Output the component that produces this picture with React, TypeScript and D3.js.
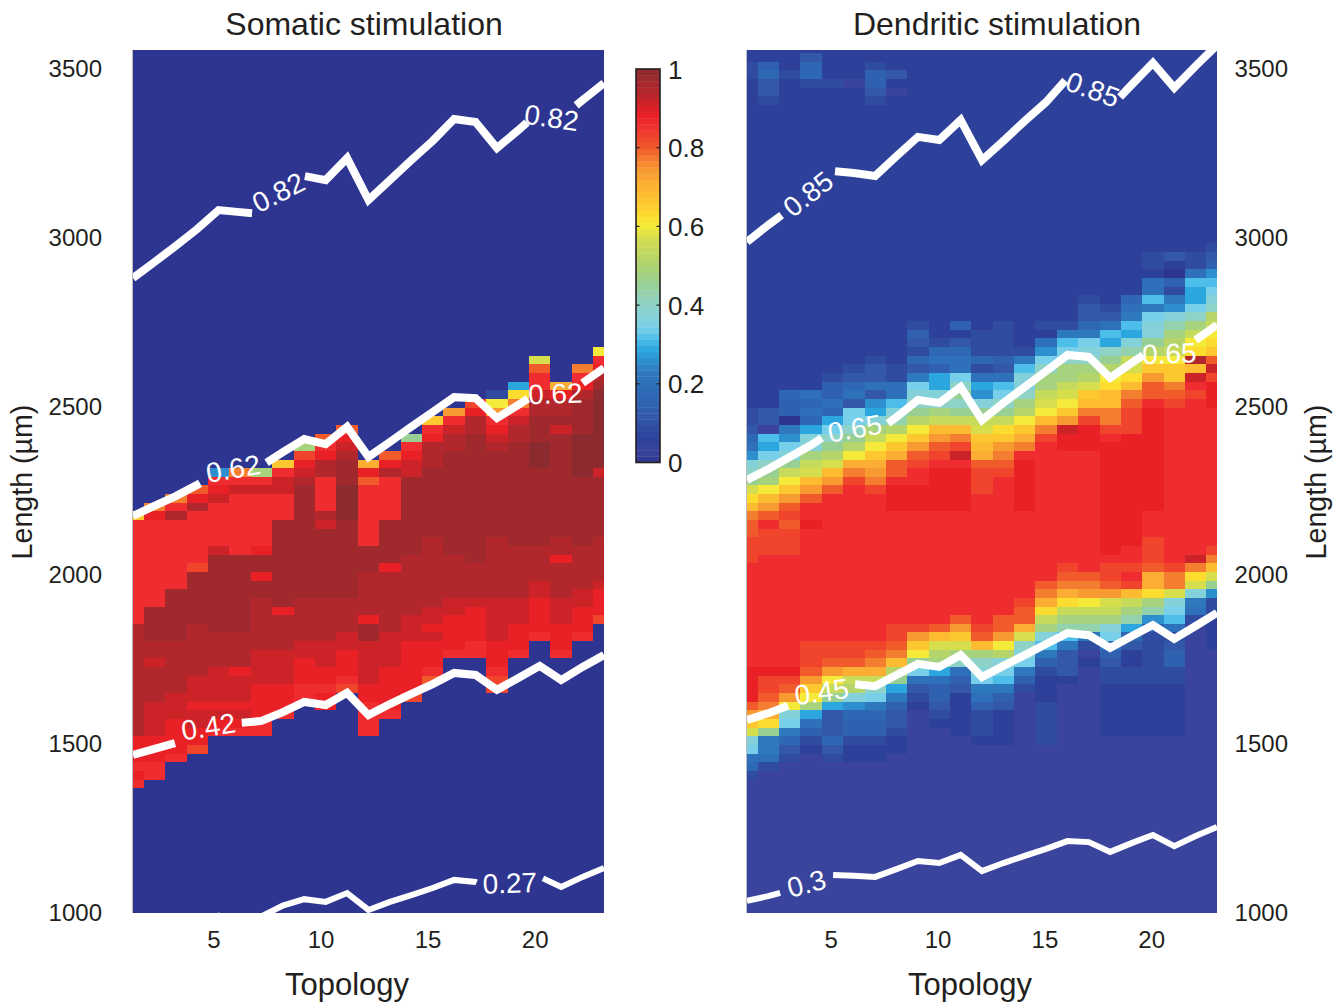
import React from "react";
import * as d3 from "d3";

// Topology axis and length axis
const topologies = d3.range(1, 24);
const lengthTicks = [1000, 1500, 2000, 2500, 3000, 3500];
const topologyTicks = [5, 10, 15, 20];
const colorTicks = [0, 0.2, 0.4, 0.6, 0.8, 1];
const ROW_COUNT = 101;
const ROW_STEP = 25.62; // µm per heat-map row
const LEVEL_CHARS = "0123456789abcdefghijklmnopqrstuvwxyz";

// Colormap (level index out of 35)
const colorLevels = [0, 1, 2, 3, 4, 5, 6, 8, 10, 11, 12, 14, 16, 18, 20, 21, 22, 23, 25, 26, 27, 28, 30, 31, 32, 33, 34, 35];
const colorHex = ["#2e3591", "#3a449c", "#2d409a", "#2f4ca1", "#3358a8", "#3060b0", "#2e68b4", "#2e78bd", "#2ca6de", "#4dbde9", "#78cfe9", "#8fd3c8", "#98cf92", "#b5d56a", "#d6de4d", "#f5ea3a", "#fddc30", "#fdc82f", "#fbae33", "#f89a32", "#f47e30", "#f15a2a", "#ef2d30", "#e92127", "#cc2329", "#b2272c", "#a0292e", "#8b2a2f"];

// Heat-map columns: each token = level char + row index it starts at (reading downward)
const somaticColumns = [
  "n46 u45 x33 v20 u17 v16 u15 014",
  "r47 v46 u45 y35 x31 w29 x28 w24 v20 u17 015",
  "r48 u47 x46 u45 y37 x31 w25 v22 u18 017",
  "s49 v48 x47 u46 t40 y39 x33 w27 v24 w23 v21 t19 018",
  "951 u50 v49 w48 u47 w42 y41 x32 w28 v24 w23 v22 u21 020",
  "r51 u50 w49 u48 y41 x32 v28 w27 v24 w23 v22 u21 020",
  "h51 u50 w49 u48 v42 y41 v39 y38 x36 w30 v26 u22 020",
  "n52 u51 w50 u48 y45 v35 x34 w30 v26 u23 022",
  "h54 t53 v52 w51 x50 y49 x36 w31 v29 u26 024",
  "s55 u54 v53 x52 u50 x46 w45 y44 x36 w31 v28 u26 v25 023",
  "s56 v55 w54 x53 y52 z49 y45 x36 w32 v30 u27 t26 025",
  "p52 v51 s50 u49 y42 x39 v34 y33 w31 v26 u24 020",
  "s53 v52 x51 u50 y45 v40 x39 w32 v28 u23 022",
  "g55 u54 v53 w52 y50 x41 w34 v31 t25 024",
  "n57 u56 v55 x54 y51 x43 w35 v33 w32 v31 u28 s27 026",
  "q58 u57 w56 x55 y53 x41 w36 v34 u30 029",
  "t59 v58 x57 y55 x40 w36 v35 u31 029",
  "360 l59 q58 u57 v56 w55 x54 y53 x43 w36 v31 u28 t27 025",
  "a61 m60 r59 u58 w57 x56 y54 x42 w36 v33 u30 029",
  "k64 s63 u62 w60 x59 y57 z54 y51 x42 w38 v36 u32 031",
  "p61 v60 x59 y57 w56 y55 x43 v41 x40 w36 v33 u30 029",
  "r63 u62 v61 x60 y59 z55 y50 x42 w37 v35 u32 031",
  "l65 u64 v63 x62 y61 z60 w51 y50 x43 w38 v37 t34 033",
];

const dendriticColumns = [
  "398 296 358 456 655 754 953 d52 e51 g50 k49 m48 o47 r46 s45 t43 u40 v28 s24 q23 n22 k21 d20 c19 718 617 316 115",
  "598 697 496 394 293 458 156 b55 a54 c53 e52 g51 h50 l49 o48 q47 s46 u45 t44 u41 v28 t27 s25 r24 p23 m22 g21 820 718 317 116",
  "397 296 660 559 057 856 955 c54 d53 g52 j51 l50 n49 q48 s47 t46 s45 t44 u41 v28 t27 s26 q25 l24 d23 c22 821 620 419 318 117",
  "499 698 396 295 760 659 758 657 a56 d55 h53 j52 k51 o50 q49 s48 u47 v45 u44 t31 s28 q27 n26 l25 h24 a23 722 521 320 219 118",
  "396 295 362 561 759 658 a57 c56 e55 g54 i53 k52 o51 q50 s49 u48 t31 s29 q28 l27 j26 g25 a24 423 620 419 318 117",
  "196 295 363 462 661 760 459 c58 e56 g55 i54 l53 p52 r51 t50 u49 t31 s29 p28 j27 i26 d25 924 623 522 320 219 117",
  "398 597 495 394 293 364 463 761 460 959 a58 d57 h56 j55 l54 n53 p52 q51 r50 t49 u48 t31 s30 r29 p28 j27 e26 c25 824 623 522 320 219 117",
  "497 296 195 294 363 761 b59 d58 f57 i56 l55 n54 p53 s52 u50 v49 u46 t33 s31 r30 o29 i28 g27 a26 825 524 423 321 220 118",
  "368 567 466 365 664 463 862 c61 d60 e59 g58 i57 l56 n55 q54 s53 t52 u51 v49 u46 t33 q32 n31 l30 g29 c28 727 426 325 224 123",
  "366 665 764 563 a62 d60 e59 h58 j57 o56 q55 s54 t53 u52 v51 u46 s33 o32 k31 i30 h29 a28 727 526 424 323 222 121",
  "568 267 466 665 764 c62 e61 g60 e59 g58 j57 o56 r55 t54 w53 u52 v51 u46 s34 q33 n32 k31 h30 e29 728 527 426 225 120",
  "367 664 363 762 a61 960 d59 g58 j57 k56 n55 o54 p53 s52 t51 u48 t33 s32 o31 h30 e29 d28 c27 826 725 524 323 220 119",
  "368 564 463 762 b61 c60 e59 g58 j57 m56 n55 q54 r53 s52 t51 u50 s34 q32 l31 i30 d29 c28 b27 826 525 424 223 119",
  "266 365 864 b63 d62 e60 h59 i58 l57 n56 p55 r54 u53 v52 u46 t36 s35 p33 k32 e31 d30 c29 828 527 326 125 119",
  "368 267 766 965 c64 e63 h62 j60 k59 l58 o57 r56 t55 u54 s38 r37 p36 m35 j34 h33 d32 b31 830 529 328 227 324 119",
  "368 867 b66 c65 e64 h63 j61 k60 l59 n58 q57 w56 v55 u53 t40 s39 r38 p37 m36 j35 h34 f33 b32 831 430 227 126",
  "371 470 668 867 c66 d65 e64 h63 i62 k61 n60 o59 r58 t57 v56 u53 s39 r38 q37 l36 j35 h34 f33 832 331 130 229 128",
  "370 469 768 b67 a66 e65 g64 i63 l62 m61 o60 r58 t56 u55 v54 u41 t40 s38 q37 k36 j35 h34 d33 c32 731 530 429 328 226 120",
  "272 671 770 869 b68 a67 d66 f65 j64 k63 m62 o61 r60 s59 t58 v55 u42 t40 u39 t38 o37 j36 h35 f34 a33 632 431 230 328 226 120",
  "376 274 773 b71 870 c69 d68 g66 i65 l64 n63 q62 s61 u59 v58 u46 t43 s40 p39 m37 h36 f35 934 533 332 226 120",
  "476 275 074 573 372 871 970 d69 f68 h67 i66 j65 l64 n63 r61 s60 t59 u58 t40 r39 k37 d36 c35 b34 733 332 431 530 328 226 120",
  "376 774 b73 a72 c70 e69 h68 j67 l66 m65 x64 o63 w62 u61 t60 u59 w41 r40 m39 k38 d37 836 735 334 133",
  "377 476 575 974 b73 c72 d71 e70 i69 j68 l67 m66 n65 s64 w63 t62 v61 u58 t42 r41 o40 k39 g38 937 336 234 130",
];

// Contour lines: length (µm) per topology
const somaticContour82 = [2881, 2928, 2976, 3026, 3082, 3076, 3070, 3127, 3183, 3171, 3236, 3112, 3171, 3230, 3287, 3352, 3343, 3266, 3319, 3376, 3355, 3408, 3458];
const somaticContour62 = [2176, 2206, 2235, 2268, 2306, 2315, 2324, 2365, 2404, 2389, 2440, 2351, 2395, 2440, 2484, 2528, 2525, 2466, 2505, 2546, 2525, 2570, 2614];
const somaticContour42 = [1468, 1486, 1504, 1524, 1557, 1563, 1569, 1595, 1625, 1616, 1652, 1586, 1619, 1649, 1678, 1711, 1705, 1661, 1696, 1732, 1690, 1729, 1764];
const somaticContour27 = [911, 935, 950, 965, 992, 975, 990, 1022, 1041, 1033, 1059, 1009, 1033, 1053, 1074, 1098, 1092, 1065, 1086, 1107, 1077, 1107, 1133];
const dendriticContour85 = [2988, 3038, 3085, 3136, 3198, 3192, 3183, 3242, 3299, 3290, 3349, 3230, 3287, 3346, 3402, 3473, 3461, 3387, 3453, 3518, 3444, 3509, 3571];
const dendriticContour65 = [2283, 2315, 2351, 2386, 2428, 2425, 2422, 2469, 2520, 2511, 2558, 2460, 2511, 2558, 2605, 2653, 2647, 2585, 2629, 2671, 2650, 2697, 2742];
const dendriticContour45 = [1572, 1592, 1616, 1640, 1678, 1678, 1672, 1705, 1738, 1729, 1764, 1699, 1732, 1764, 1797, 1829, 1823, 1785, 1820, 1853, 1812, 1850, 1889];
const dendriticContour30 = [1036, 1050, 1068, 1089, 1113, 1110, 1107, 1130, 1154, 1148, 1172, 1124, 1148, 1169, 1190, 1213, 1210, 1181, 1207, 1231, 1198, 1228, 1255];

type LabelSpec = { text: string; from: number; to: number; angle: number; dy: number };
type ContourSpec = { values: number[]; width: number; labels: LabelSpec[] };

const somaticContours: ContourSpec[] = [
  { values: somaticContour82, width: 8, labels: [{ text: "0.82", from: 6.56, to: 9.03, angle: -27, dy: -2 }, { text: "0.82", from: 19.4, to: 21.7, angle: 8, dy: 4 }] },
  { values: somaticContour62, width: 8, labels: [{ text: "0.62", from: 4.13, to: 7.24, angle: -10, dy: -4 }, { text: "0.62", from: 19.45, to: 22, angle: -2, dy: 3 }] },
  { values: somaticContour42, width: 8, labels: [{ text: "0.42", from: 2.96, to: 6.08, angle: -9, dy: -6 }] },
  { values: somaticContour27, width: 6, labels: [{ text: "0.27", from: 17.05, to: 20.15, angle: -2, dy: 3 }] },
];
const dendriticContours: ContourSpec[] = [
  { values: dendriticContour85, width: 8, labels: [{ text: "0.85", from: 2.62, to: 5.12, angle: -38, dy: 1 }, { text: "0.85", from: 15.9, to: 18.46, angle: 20, dy: 1 }] },
  { values: dendriticContour65, width: 8, labels: [{ text: "0.65", from: 4.5, to: 7.6, angle: -10, dy: -2 }, { text: "0.65", from: 19.54, to: 22, angle: -2, dy: 6 }] },
  { values: dendriticContour45, width: 8, labels: [{ text: "0.45", from: 2.92, to: 6.06, angle: -8, dy: -3 }] },
  { values: dendriticContour30, width: 6, labels: [{ text: "0.3", from: 2.55, to: 5.03, angle: -15, dy: 0 }] },
];

const FONT = "'Liberation Sans', Arial, sans-serif";
const INK = "#231f20";
const PLOT_TOP = 50;
const PLOT_BOTTOM = 913;

const color = d3.scaleLinear<string>().domain(colorLevels).range(colorHex).interpolate(d3.interpolateRgb);
const yScale = d3.scaleLinear().domain([1000, 3500]).range([913, 69]);
const colorBarScale = d3.scaleLinear().domain([0, 1]).range([462.5, 69]);

function expandColumn(tokens: string, topLevel: number): number[] {
  const out = new Array(ROW_COUNT).fill(topLevel);
  const parsed = tokens.split(" ").map((t) => ({ level: LEVEL_CHARS.indexOf(t[0]), row: +t.slice(1) }));
  parsed.forEach((p, i) => {
    const end = i + 1 < parsed.length ? parsed[i + 1].row : -1;
    for (let r = p.row; r > end; r--) out[r] = p.level;
  });
  return out;
}

function Panel(props: {
  id: string; left: number; right: number; columns: string[]; topLevel: number; contours: ContourSpec[];
}) {
  const { id, left, right, columns, topLevel, contours } = props;
  const x = d3.scaleLinear().domain([1, 23]).range([left, right]);
  const cellW = x(2) - x(1);
  const cellH = Math.abs(yScale(1000 + ROW_STEP) - yScale(1000));
  const line = d3.line<[number, number]>().x((d) => x(d[0])).y((d) => yScale(d[1])).curve(d3.curveLinear);
  return (
    <g>
      <clipPath id={id}>
        <rect x={left} y={PLOT_TOP} width={right - left} height={PLOT_BOTTOM - PLOT_TOP} />
      </clipPath>
      <g clipPath={`url(#${id})`}>
        <g shapeRendering="crispEdges">
          {columns.map((col, c) =>
            expandColumn(col, topLevel).map((lev, r) => (
              <rect key={`${c}-${r}`} x={x(topologies[c]) - cellW / 2} y={yScale(1000 + r * ROW_STEP) - cellH / 2}
                width={cellW + 0.6} height={cellH + 0.6} fill={color(lev)} />
            ))
          )}
        </g>
        {contours.map((ct, i) => {
          const interp = d3.scaleLinear().domain(topologies).range(ct.values);
          const sorted = [...ct.labels].sort((a, b) => a.from - b.from);
          const edges = [1, ...sorted.flatMap((l) => [l.from, l.to]), 23];
          const parts: [number, number][][] = [];
          for (let e = 0; e < edges.length; e += 2) {
            const a = edges[e], b = edges[e + 1];
            const xs = [a, ...topologies.filter((t) => t > a && t < b), b];
            parts.push(xs.map((t) => [t, interp(t)] as [number, number]));
          }
          return (
            <g key={i}>
              {parts.map((p, j) => (
                <path key={j} d={line(p) || ""} fill="none" stroke="#fff" strokeWidth={ct.width} strokeLinejoin="miter" />
              ))}
              {sorted.map((l, j) => {
                const px = (x(l.from) + x(l.to)) / 2;
                const py = (yScale(interp(l.from)) + yScale(interp(l.to))) / 2 + l.dy;
                return (
                  <text key={j} transform={`translate(${px},${py}) rotate(${l.angle})`} textAnchor="middle" dominantBaseline="central"
                    fontFamily={FONT} fontSize={28} fill="#fff">{l.text}</text>
                );
              })}
            </g>
          );
        })}
      </g>
      <line x1={left - 0.5} x2={left - 0.5} y1={PLOT_TOP} y2={PLOT_BOTTOM} stroke="#bbb" strokeWidth={1} />
    </g>
  );
}

export default function App() {
  const xLeft = d3.scaleLinear().domain([1, 23]).range([133, 604]);
  const xRight = d3.scaleLinear().domain([1, 23]).range([747, 1217]);
  const steps = d3.range(64);
  const stepH = (colorBarScale(0) - colorBarScale(1)) / 64;
  const tick = { fontFamily: FONT, fontSize: 24, fill: INK };
  return (
    <svg width={1337} height={1008} viewBox="0 0 1337 1008" style={{ position: "absolute", left: 0, top: 0, background: "#fff" }}>
      <Panel id="clip-somatic" left={133} right={604} columns={somaticColumns} topLevel={0} contours={somaticContours} />
      <Panel id="clip-dendritic" left={747} right={1217} columns={dendriticColumns} topLevel={2} contours={dendriticContours} />

      <text x={364} y={24} textAnchor="middle" dominantBaseline="central" fontFamily={FONT} fontSize={32} fill={INK}>Somatic stimulation</text>
      <text x={997} y={24} textAnchor="middle" dominantBaseline="central" fontFamily={FONT} fontSize={32} fill={INK}>Dendritic stimulation</text>

      {lengthTicks.map((t) => (
        <g key={t}>
          <text x={102} y={yScale(t) - 0.5} textAnchor="end" dominantBaseline="central" {...tick}>{t}</text>
          <text x={1288} y={yScale(t) - 0.5} textAnchor="end" dominantBaseline="central" {...tick}>{t}</text>
        </g>
      ))}
      {topologyTicks.map((t) => (
        <g key={t}>
          <text x={xLeft(t) - 4.6} y={939} textAnchor="middle" dominantBaseline="central" {...tick}>{t}</text>
          <text x={xRight(t) - 1.2} y={939} textAnchor="middle" dominantBaseline="central" {...tick}>{t}</text>
        </g>
      ))}
      <text x={347} y={984.5} textAnchor="middle" dominantBaseline="central" fontFamily={FONT} fontSize={31} fill={INK}>Topology</text>
      <text x={970} y={984.5} textAnchor="middle" dominantBaseline="central" fontFamily={FONT} fontSize={31} fill={INK}>Topology</text>
      <text transform="translate(22,482) rotate(-90)" textAnchor="middle" dominantBaseline="central" fontFamily={FONT} fontSize={28.6} fill={INK}>Length (µm)</text>
      <text transform="translate(1316,482) rotate(-90)" textAnchor="middle" dominantBaseline="central" fontFamily={FONT} fontSize={28.6} fill={INK}>Length (µm)</text>

      {steps.map((s) => (
        <rect key={s} x={636} width={24} y={colorBarScale((s + 1) / 64)} height={stepH + 0.4} fill={color(((s + 0.5) / 64) * 35)} />
      ))}
      <rect x={636} y={69} width={24} height={393.5} fill="none" stroke={INK} strokeWidth={1.6} />
      {colorTicks.map((t) => (
        <g key={t}>
          {t > 0 && t < 1 && (
            <>
              <line x1={636} x2={639.5} y1={colorBarScale(t)} y2={colorBarScale(t)} stroke={INK} strokeWidth={1.2} />
              <line x1={656.5} x2={660} y1={colorBarScale(t)} y2={colorBarScale(t)} stroke={INK} strokeWidth={1.2} />
            </>
          )}
          <text x={668} y={colorBarScale(t) + 0.5} dominantBaseline="central" fontFamily={FONT} fontSize={26} fill={INK}>{t}</text>
        </g>
      ))}
    </svg>
  );
}
